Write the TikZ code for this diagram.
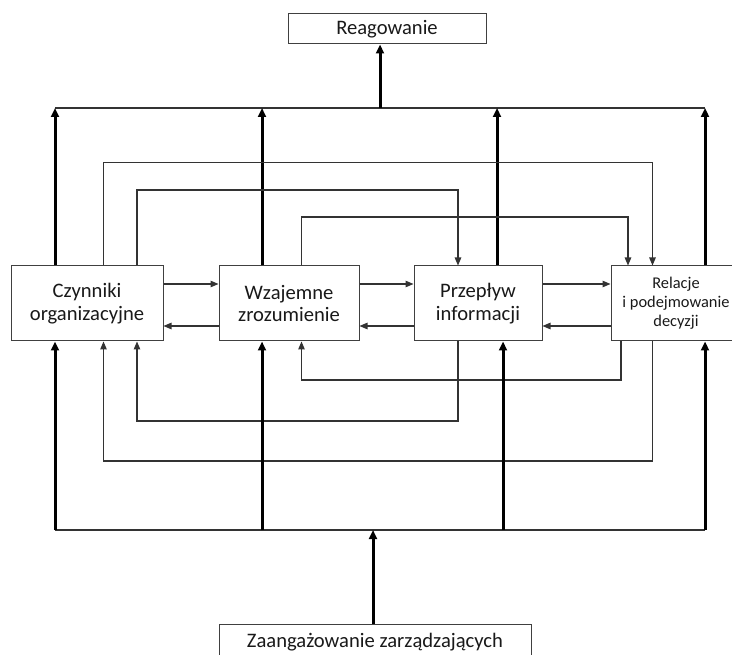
\documentclass[tikz,border=0pt]{standalone}
\usepackage{fontspec}
\setmainfont{Carlito}
\usetikzlibrary{arrows.meta}
\begin{document}
\begin{tikzpicture}[x=1pt,y=-1pt,
  box/.style={draw=black!75,line width=1pt,inner sep=0pt,align=center,text=black!90,
    font=\fontsize{20.6}{22.5}\selectfont},
  thinline/.style={draw=black!80,line width=1.1pt},
  thinarrow/.style={thinline,-{Triangle[length=8pt,width=6.5pt]}},
  thickarrow/.style={draw=black,line width=3pt,-{Triangle[length=9pt,width=8pt]}}]
\useasboundingbox (0,0) rectangle (732,655);
\clip (0,0) rectangle (732,655);
% nodes
\node[box,minimum width=198pt,minimum height=30pt] (reag) at (387,29) {Reagowanie};
\node[box,minimum width=152pt,minimum height=75pt] (b1) at (87,303.5) {Czynniki\\organizacyjne};
\node[box,minimum width=140pt,minimum height=75pt] (b2) at (289,303.5) {Wzajemne\\zrozumienie};
\node[box,minimum width=128pt,minimum height=75pt] (b3) at (478,303.5) {Przepływ\\informacji};
\node[box,minimum width=130pt,minimum height=75pt,font=\fontsize{16.4}{19}\selectfont] (b4) at (676,303.5) {Relacje\\i podejmowanie\\decyzji};
\node[box,minimum width=312pt,minimum height=36pt] (zaang) at (375,642) {Zaangażowanie zarządzających};
% columns and rows
\coordinate (k0) at (380,0);
\coordinate (k1) at (55,0);
\coordinate (k2) at (262,0);
\coordinate (k3) at (497,0);
\coordinate (k3b) at (503,0);
\coordinate (k4) at (705,0);
\coordinate (kz) at (373,0);
\coordinate (t1) at (103.5,0);
\coordinate (t2) at (137,0);
\coordinate (t3) at (301.5,0);
\coordinate (t4) at (458,0);
\coordinate (t5) at (628,0);
\coordinate (t6) at (652.5,0);
\coordinate (t7) at (621,0);
\coordinate (top) at (0,108);
\coordinate (ya) at (0,162.5);
\coordinate (yb) at (0,190);
\coordinate (yc) at (0,217);
\coordinate (rr) at (0,284);
\coordinate (rl) at (0,326);
\coordinate (yd) at (0,380);
\coordinate (ye) at (0,421);
\coordinate (yf) at (0,461);
\coordinate (bot) at (0,530);
% top collector
\draw[thinline] (k1 |- top) -- (k4 |- top);
\draw[thickarrow] (k0 |- top) -- (k0 |- reag.south);
\draw[thickarrow] (k1 |- b1.north) -- (k1 |- top);
\draw[thickarrow] (k2 |- b2.north) -- (k2 |- top);
\draw[thickarrow] (k3 |- b3.north) -- (k3 |- top);
\draw[thickarrow] (k4 |- b4.north) -- (k4 |- top);
% top loops
\draw[thinarrow] (t1 |- b1.north) -- (t1 |- ya) -- (t6 |- ya) -- (t6 |- b4.north);
\draw[thinarrow] (t2 |- b1.north) -- (t2 |- yb) -- (t4 |- yb) -- (t4 |- b3.north);
\draw[thinarrow] (t3 |- b2.north) -- (t3 |- yc) -- (t5 |- yc) -- (t5 |- b4.north);
% horizontal arrows
\draw[thinarrow] (b1.east |- rr) -- (b2.west |- rr);
\draw[thinarrow] (b2.west |- rl) -- (b1.east |- rl);
\draw[thinarrow] (b2.east |- rr) -- (b3.west |- rr);
\draw[thinarrow] (b3.west |- rl) -- (b2.east |- rl);
\draw[thinarrow] (b3.east |- rr) -- (b4.west |- rr);
\draw[thinarrow] (b4.west |- rl) -- (b3.east |- rl);
% bottom loops
\draw[thinarrow] (t7 |- b4.south) -- (t7 |- yd) -- (t3 |- yd) -- (t3 |- b2.south);
\draw[thinarrow] (t4 |- b3.south) -- (t4 |- ye) -- (t2 |- ye) -- (t2 |- b1.south);
\draw[thinarrow] (t6 |- b4.south) -- (t6 |- yf) -- (t1 |- yf) -- (t1 |- b1.south);
% bottom collector
\draw[thinline] (k1 |- bot) -- (k4 |- bot);
\draw[thickarrow] (kz |- zaang.north) -- (kz |- bot);
\draw[thickarrow] (k1 |- bot) -- (k1 |- b1.south);
\draw[thickarrow] (k2 |- bot) -- (k2 |- b2.south);
\draw[thickarrow] (k3b |- bot) -- (k3b |- b3.south);
\draw[thickarrow] (k4 |- bot) -- (k4 |- b4.south);
\end{tikzpicture}
\end{document}
